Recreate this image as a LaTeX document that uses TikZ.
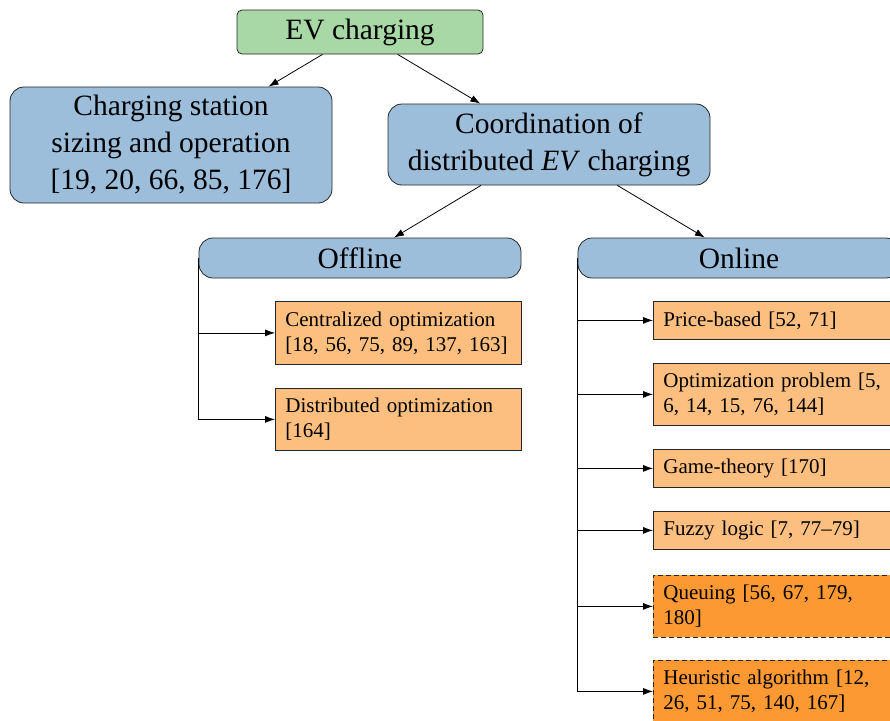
\documentclass[tikz,border=0pt]{standalone}
\usepackage{fontspec}
\setmainfont{Liberation Serif}
\usetikzlibrary{arrows.meta}
\definecolor{evgreen}{RGB}{168,216,165}
\definecolor{evblue}{RGB}{156,190,219}
\definecolor{lorange}{RGB}{253,191,128}
\definecolor{dorange}{RGB}{253,153,51}
\begin{document}
\begin{tikzpicture}[x=1pt,y=1pt,
  bigfont/.style={font=\fontsize{29.5}{37}\selectfont},
  smallfont/.style={font=\fontsize{21}{25}\selectfont},
  rootbox/.style={draw=black!85, line width=0.8pt, fill=evgreen, rounded corners=5pt, bigfont, minimum width=246pt, minimum height=44pt, inner sep=0pt, align=center},
  catbox/.style={draw=black!85, line width=0.8pt, fill=evblue, rounded corners=14pt, bigfont, minimum width=322pt, inner sep=0pt, align=center},
  leafbox/.style={draw=black!85, line width=0.8pt, fill=lorange, smallfont, text width=226pt, inner xsep=10pt, inner ysep=0pt, minimum width=246pt, align=left, anchor=north west},
  guessbox/.style={leafbox, fill=dorange, dash pattern=on 5pt off 3pt},
  conn/.style={line width=0.8pt, -{Latex[length=10pt,width=7pt]}}
]
\clip (0,0) rectangle (890,-720);
\node[rootbox] (ev) at (360,-32) {EV charging};
\node[catbox, minimum height=116pt] (cs) at (171,-145) {Charging station\\sizing and operation\\{}[19, 20, 66, 85, 176]};
\node[catbox, minimum height=81pt] (co) at (549,-144.5) {Coordination of\\distributed \textit{EV} charging};
\node[catbox, minimum height=40pt] (off) at (360,-258) {Offline};
\node[catbox, minimum height=40pt] (on) at (739,-258) {Online};

\node[leafbox, minimum height=63pt] (c1) at (275,-301) {\mbox{Centralized optimization}\\\mbox{[18, 56, 75, 89, 137, 163]}};
\node[leafbox, minimum height=62pt] (c2) at (275,-388) {\mbox{Distributed optimization}\\\mbox{[164]}};

\node[leafbox, minimum height=38pt] (o1) at (653,-301) {\mbox{Price-based [52, 71]}};
\node[leafbox, minimum height=62pt] (o2) at (653,-363) {\mbox{Optimization problem [5,}\\\mbox{6, 14, 15, 76, 144]}};
\node[leafbox, minimum height=38pt] (o3) at (653,-449) {\mbox{Game-theory [170]}};
\node[leafbox, minimum height=38pt] (o4) at (653,-511) {\mbox{Fuzzy logic [7, 77--79]}};
\node[guessbox, minimum height=62pt] (o5) at (653,-575) {\mbox{Queuing [56, 67, 179,}\\\mbox{180]}};
\node[guessbox, minimum height=62pt] (o6) at (653,-660) {\mbox{Heuristic algorithm [12,}\\\mbox{26, 51, 75, 140, 167]}};

\draw[conn] (ev) -- (cs);
\draw[conn] (ev) -- (co);
\draw[conn] (co) -- (off);
\draw[conn] (co) -- (on);

\draw[conn] (off.west) |- (c1.west);
\draw[conn] (off.west) |- (c2.west);

\foreach \n in {o1,o2,o3,o4,o5,o6}
  \draw[conn] (on.west) |- (\n.west);
\end{tikzpicture}
\end{document}
